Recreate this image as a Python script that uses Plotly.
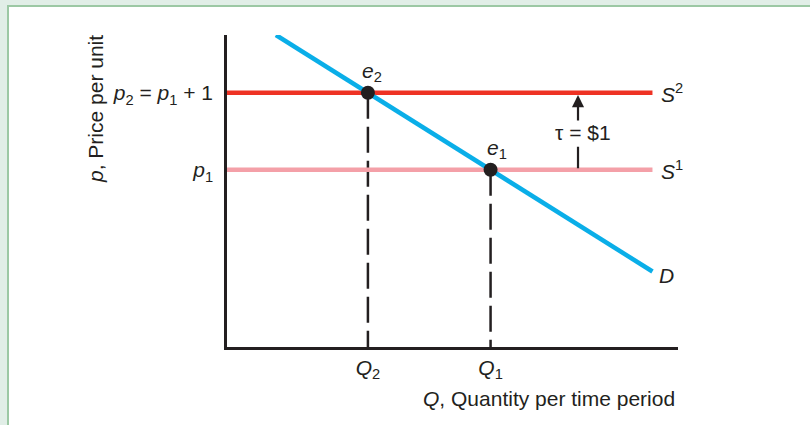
import plotly.graph_objects as go

# Prices before and after the specific tax
p1 = 2.30
tax = 1.0
p2 = p1 + tax

# Demand curve endpoints (quantity, price)
demand_q = [1.15, 10.0]
demand_p = [4.05, 0.98]

# Supply curves are horizontal out to this quantity
supply_q = [0.0, 10.0]

# Quantity at which the tax arrow is drawn
tax_arrow_q = 8.25

INK = "#231F20"
RED = "#EE3224"
PINK = "#F4A0A8"
BLUE = "#0AAEE8"
FONT = "Liberation Sans, Arial, sans-serif"

# Equilibrium quantities: where demand meets each supply curve
slope = (demand_p[1] - demand_p[0]) / (demand_q[1] - demand_q[0])


def quantity_at(price):
    return demand_q[0] + (price - demand_p[0]) / slope


q1 = quantity_at(p1)
q2 = quantity_at(p2)

fig = go.Figure()

# Dashed drop lines from the equilibria to the quantity axis
for q, p in [(q2, p2), (q1, p1)]:
    fig.add_trace(go.Scatter(
        x=[q, q], y=[p, 0], mode="lines",
        line=dict(color=INK, width=2.5, dash="26px,8px"),
        hoverinfo="skip", showlegend=False,
    ))

# Supply curves
fig.add_trace(go.Scatter(x=supply_q, y=[p1, p1], mode="lines",
                         line=dict(color=PINK, width=4.5), showlegend=False))
fig.add_trace(go.Scatter(x=supply_q, y=[p2, p2], mode="lines",
                         line=dict(color=RED, width=4.5), showlegend=False))

# Demand curve
fig.add_trace(go.Scatter(x=demand_q, y=demand_p, mode="lines",
                         line=dict(color=BLUE, width=4.5), showlegend=False))

# Equilibrium points
fig.add_trace(go.Scatter(x=[q2, q1], y=[p2, p1], mode="markers",
                         marker=dict(color=INK, size=14), showlegend=False))

# Plot area geometry in pixels
W, H = 810, 425
L, R, T, B = 227, 132, 35, 78
pw, ph = W - L - R, H - T - B


def px(x):
    return (x - L) / pw


def py(y):
    return (H - B - y) / ph


txt = dict(family=FONT, size=21, color=INK)

annotations = [
    # Curve labels
    dict(x=supply_q[1], y=p2, xref="x", yref="y", text="<i>S</i><sup>2</sup>",
         xanchor="left", yanchor="middle", xshift=7, showarrow=False, font=txt),
    dict(x=supply_q[1], y=p1, xref="x", yref="y", text="<i>S</i><sup>1</sup>",
         xanchor="left", yanchor="middle", xshift=7, showarrow=False, font=txt),
    dict(x=demand_q[1], y=demand_p[1], xref="x", yref="y", text="<i>D</i>",
         xanchor="left", yanchor="middle", xshift=5, yshift=-4, showarrow=False, font=txt),
    # Equilibrium labels
    dict(x=q2, y=p2, xref="x", yref="y", text="<i>e</i><sub>2</sub>",
         xanchor="center", yanchor="bottom", xshift=4, yshift=6, showarrow=False, font=txt),
    dict(x=q1, y=p1, xref="x", yref="y", text="<i>e</i><sub>1</sub>",
         xanchor="center", yanchor="bottom", xshift=6, yshift=6, showarrow=False, font=txt),
    # Tax arrow: lower stem, upper arrow and label
    dict(x=tax_arrow_q, y=p1 + 0.30 * tax, ax=tax_arrow_q, ay=p1, xref="x", yref="y",
         axref="x", ayref="y", text="", showarrow=True, arrowhead=0,
         arrowwidth=2.2, arrowcolor=INK),
    dict(x=tax_arrow_q, y=p2 - 0.03 * tax, ax=tax_arrow_q, ay=p1 + 0.62 * tax,
         xref="x", yref="y", axref="x", ayref="y", text="", showarrow=True,
         arrowhead=2, arrowsize=1.1, arrowwidth=2.2, arrowcolor=INK),
    dict(x=tax_arrow_q, y=p1 + 0.48 * tax, xref="x", yref="y",
         text="\u03c4 = $1", xanchor="center", yanchor="middle", xshift=5,
         showarrow=False, font=txt),
    # Axis titles
    dict(x=px(677), y=py(398), xref="paper", yref="paper",
         text="<i>Q</i>, Quantity per time period", xanchor="right", yanchor="middle",
         showarrow=False, font=txt),
    dict(x=px(95), y=py(109), xref="paper", yref="paper",
         text="<i>p</i>, Price per unit", textangle=-90, xanchor="center",
         yanchor="middle", showarrow=False, font=txt),
]

shapes = [
    # White panel with a green frame on the top and left
    dict(type="rect", xref="paper", yref="paper", x0=px(9), x1=px(830),
         y0=py(440), y1=py(7), fillcolor="white", line=dict(width=0), layer="below"),
    dict(type="line", xref="paper", yref="paper", x0=px(8), x1=px(8),
         y0=py(6), y1=py(440), line=dict(color="#9CC8A4", width=2), layer="below"),
    dict(type="line", xref="paper", yref="paper", x0=px(7), x1=px(830),
         y0=py(6), y1=py(6), line=dict(color="#9CC8A4", width=2), layer="below"),
]

fig.update_layout(
    width=W, height=H,
    margin=dict(l=L, r=R, t=T, b=B, pad=0),
    paper_bgcolor="#E1EEE7",
    plot_bgcolor="rgba(0,0,0,0)",
    showlegend=False,
    annotations=annotations,
    shapes=shapes,
    font=txt,
)

fig.update_xaxes(
    range=[0, 10.6], showgrid=False, zeroline=False,
    showline=True, linecolor=INK, linewidth=2.5,
    tickvals=[q2, q1], ticktext=["<i>Q</i><sub>2</sub>", "<i>Q</i><sub>1</sub>"],
    ticks="outside", ticklen=0, ticklabelstandoff=0, tickfont=txt,
    fixedrange=True,
)
fig.update_yaxes(
    range=[0, 4.05], showgrid=False, zeroline=False,
    showline=True, linecolor=INK, linewidth=2.5,
    tickvals=[p1, p2],
    ticktext=["<i>p</i><sub>1</sub>", "<i>p</i><sub>2</sub> = <i>p</i><sub>1</sub> + 1"],
    ticks="outside", ticklen=0, ticklabelstandoff=7, tickfont=txt,
    fixedrange=True,
)

fig.write_html("out.html")
